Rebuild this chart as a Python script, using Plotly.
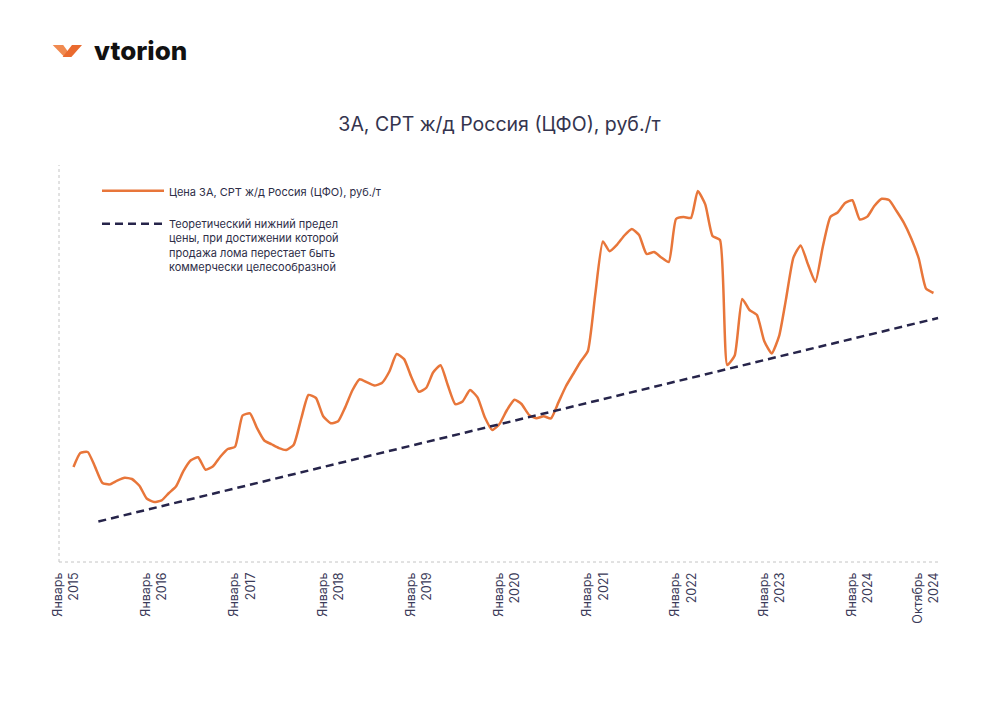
import plotly.graph_objects as go
import pandas as pd

# ---- data -------------------------------------------------------------
months = pd.date_range("2015-02-01", periods=118, freq="MS")

price = [
    9840, 10960, 11040, 9870, 8560, 8450, 8750, 8980, 8880, 8340, 7320,          # 2015-02 .. 2015-12
    7040, 7170, 7740, 8300, 9510, 10380, 10620, 9620, 9900, 10660, 11280, 11460,  # 2016
    13960, 14130, 12990, 11960, 11660, 11350, 11200, 11620, 13720, 15600, 15360, 13900,  # 2017
    13340, 13500, 14570, 15980, 16860, 16610, 16360, 16560, 17480, 18880, 18470, 17040,  # 2018
    15860, 16180, 17400, 17980, 16380, 14870, 15080, 16000, 15410, 13820, 12800, 13280,  # 2019
    14400, 15220, 14880, 14010, 13740, 13900, 13730, 15010, 16300, 17280, 18280, 19120,  # 2020
    23730, 27880, 27100, 27630, 28360, 28880, 28400, 26880, 27040, 26600, 26240, 29680,  # 2021
    29840, 29770, 31920, 30850, 28320, 28000, 18000, 18760, 23280, 22400, 22000, 19920,  # 2022
    18920, 20330, 23230, 26590, 27570, 26020, 24640, 27480, 29840, 30200, 30960, 31180,  # 2023
    29640, 29870, 30720, 31300, 31200, 30320, 29390, 28120, 26520, 24120, 23760,         # 2024-01 .. 2024-11
]

floor_dates = ["2015-05-15", "2024-11-20"]
floor_values = [5480, 21760]

tick_dates = ["2015-01-01", "2016-01-01", "2017-01-01", "2018-01-01", "2019-01-01",
              "2020-01-01", "2021-01-01", "2022-01-01", "2023-01-01", "2024-01-01",
              "2024-10-01"]
tick_labels = ["Январь<br>2015", "Январь<br>2016", "Январь<br>2017", "Январь<br>2018",
               "Январь<br>2019", "Январь<br>2020", "Январь<br>2021", "Январь<br>2022",
               "Январь<br>2023", "Январь<br>2024", "Октябрь<br>2024"]

price_name = "Цена 3А, СРТ ж/д Россия (ЦФО), руб./т"
floor_name = ("Теоретический нижний предел<br>цены, при достижении которой<br>"
              "продажа лома перестает быть<br>коммерчески целесообразной")
title_text = "3А, СРТ ж/д Россия (ЦФО), руб./т"

# ---- layout geometry ---------------------------------------------------
W, H = 1000, 707
ML, MR, MT, MB = 59, 60, 165, 145
PW, PH = W - ML - MR, H - MT - MB


def px(x):
    return (x - ML) / PW


def py(y):
    return (H - MB - y) / PH


FONT = "Inter"
ORANGE = "#E8763A"
NAVY = "#26244A"
TEXT = "#2E2E48"

fig = go.Figure()
fig.add_trace(go.Scatter(
    x=months, y=price, mode="lines", name=price_name, legendgroup="a",
    line=dict(color=ORANGE, width=2.5, shape="spline", smoothing=0.5),
))
fig.add_trace(go.Scatter(
    x=floor_dates, y=floor_values, mode="lines", name=floor_name, legendgroup="b",
    line=dict(color=NAVY, width=2.5, dash="8px,5px"),
))

shapes = [
    dict(type="line", xref="paper", yref="paper", x0=0, x1=1, y0=0, y1=0,
         line=dict(color="#C4C4C4", width=1, dash="3px,3px")),
    dict(type="line", xref="paper", yref="paper", x0=0, x1=0, y0=0, y1=1,
         line=dict(color="#C4C4C4", width=1, dash="3px,3px")),
]
# logo mark
left_arm = [(52.7, 45), (63.2, 45), (68.6, 52.6), (64.4, 57)]
right_arm = [(72, 45), (82, 45), (71.4, 57), (62.6, 57)]
for pts, col in ((left_arm, "#F08A50"), (right_arm, "#EA6A2E")):
    path = "M " + " L ".join(f"{px(a):.5f},{py(b):.5f}" for a, b in pts) + " Z"
    shapes.append(dict(type="path", xref="paper", yref="paper", path=path,
                       fillcolor=col, line=dict(width=0)))

fig.update_layout(
    width=W, height=H,
    margin=dict(l=ML, r=MR, t=MT, b=MB),
    paper_bgcolor="white", plot_bgcolor="white",
    font=dict(family=FONT, color=TEXT),
    title=dict(text=title_text, x=0.5, xanchor="center", xref="paper",
               y=1 - 124 / H, yanchor="middle", yref="container",
               font=dict(family=FONT, size=19.5, color="#34344E")),
    showlegend=True,
    legend=dict(x=px(97), y=py(177), xanchor="left", yanchor="top",
                font=dict(family=FONT, size=11, color=TEXT),
                itemwidth=62, valign="top", tracegroupgap=14,
                traceorder="grouped", bgcolor="rgba(0,0,0,0)"),
    xaxis=dict(type="date", range=["2014-12-03", "2024-11-28"],
               tickmode="array", tickvals=tick_dates, ticktext=tick_labels,
               tickangle=-90, showgrid=False, zeroline=False, showline=False,
               ticks="", ticklabelstandoff=7,
               tickfont=dict(family=FONT, size=12.5, color="#3A3A58")),
    yaxis=dict(range=[2240, 34000], visible=False, showgrid=False, zeroline=False),
    shapes=shapes,
    annotations=[dict(text="vtorion", xref="paper", yref="paper",
                      x=px(92), y=py(51), xanchor="left", yanchor="middle",
                      showarrow=False,
                      font=dict(family=FONT, size=26, color="#111111", weight=800))],
)

fig.write_html("out.html", config={"displayModeBar": False},
               post_script="document.body.style.margin='0';")
